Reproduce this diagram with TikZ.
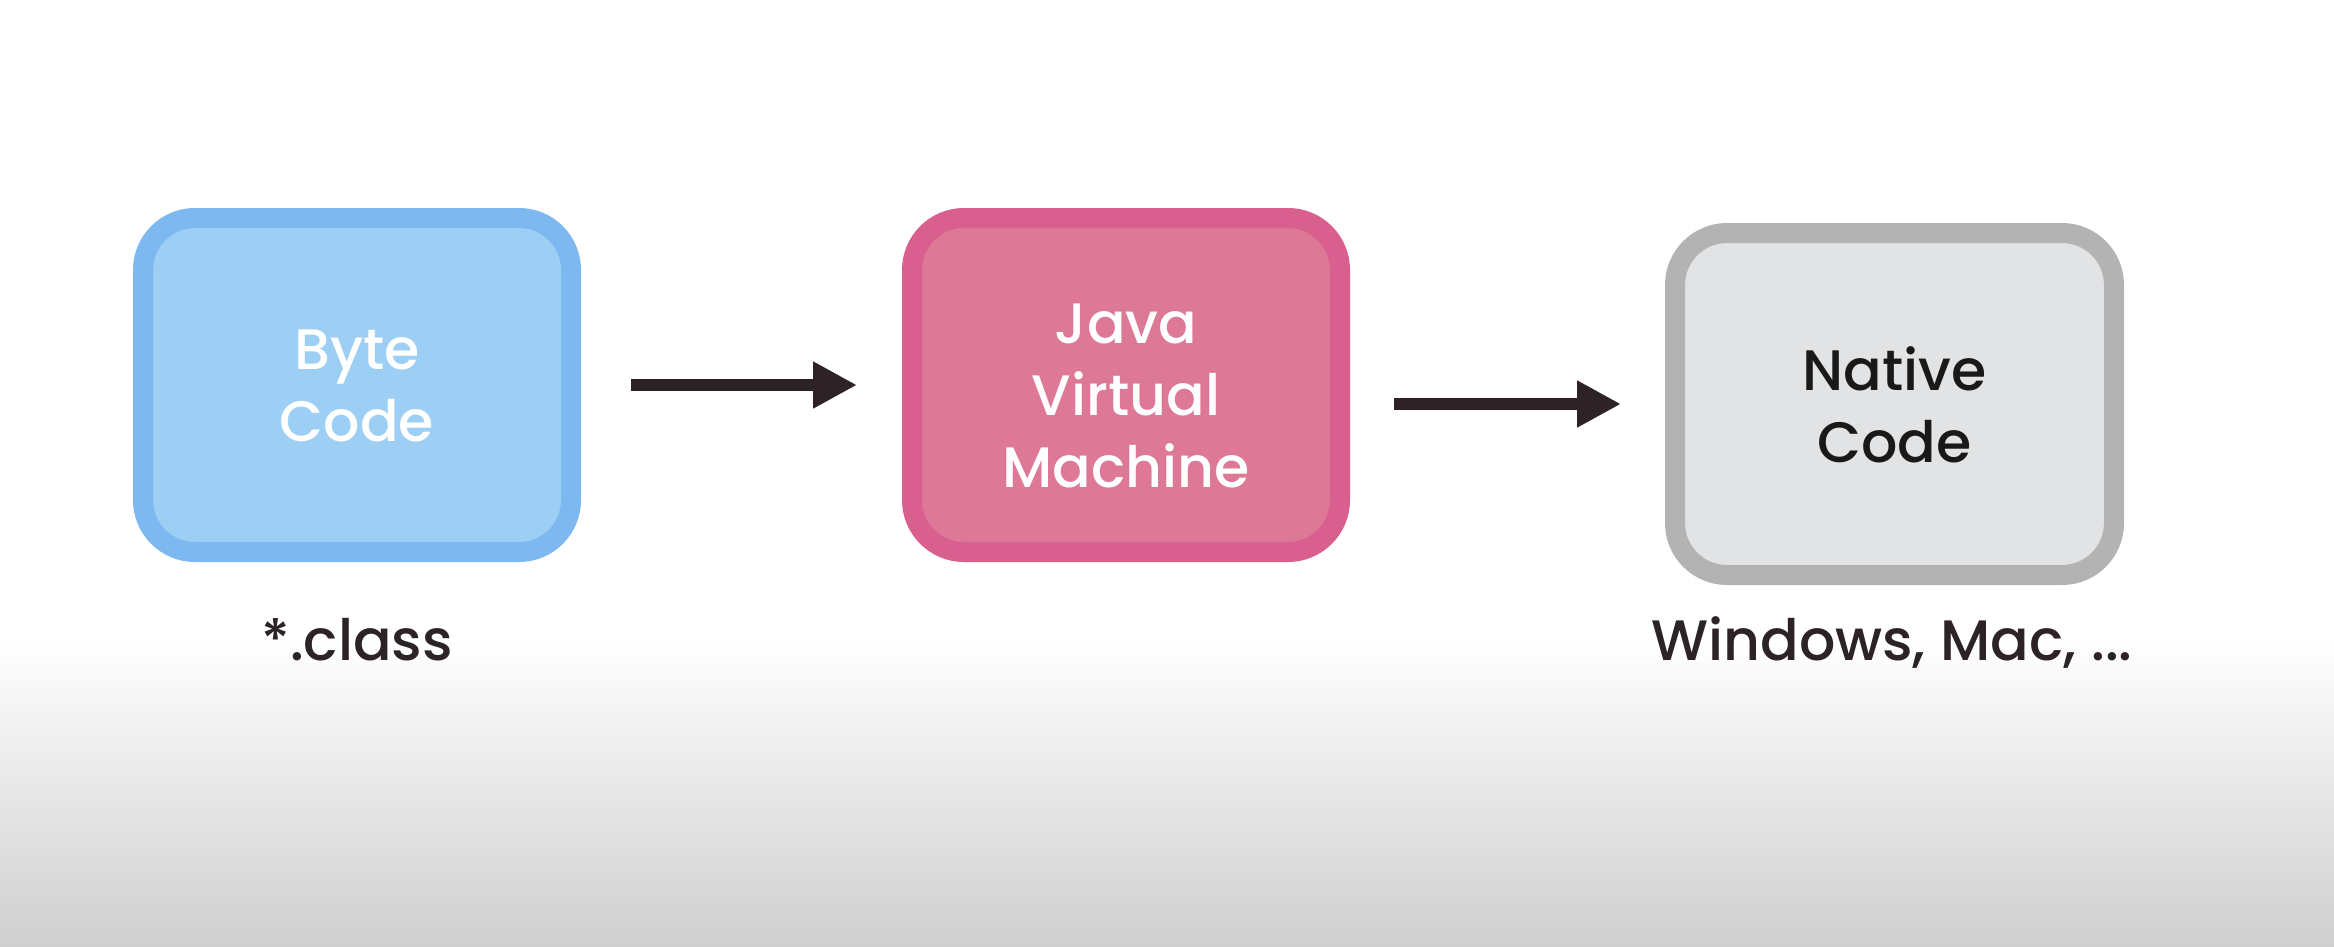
\documentclass[tikz,border=0pt]{standalone}
\usepackage{fontspec}
\setmainfont{Poppins}[UprightFont=* Medium]
\usetikzlibrary{arrows.meta}
\definecolor{byteborder}{HTML}{7DB9F0}
\definecolor{bytefill}{HTML}{9DCFF5}
\definecolor{jvmborder}{HTML}{D95F8F}
\definecolor{jvmfill}{HTML}{DE7897}
\definecolor{natborder}{HTML}{B3B3B3}
\definecolor{natfill}{HTML}{E2E3E5}
\definecolor{arrowcol}{HTML}{2D2326}
\definecolor{labelcol}{HTML}{2B2326}
\definecolor{bgbottom}{HTML}{CFCFCF}
\tikzset{
  boxshape/.style={rectangle, rounded corners=52pt, line width=20pt, inner sep=0pt},
  boxtext/.style={align=center, inner sep=0pt, font=\fontsize{57}{72}\selectfont},
  undertext/.style={anchor=base, inner sep=0pt, text=labelcol, font=\fontsize{57}{72}\selectfont},
  flow/.style={draw=arrowcol, line width=12pt, -{Triangle[length=44pt,width=44pt]}}
}
\begin{document}
\begin{tikzpicture}[x=1pt,y=-1pt]
\fill[white] (0,0) rectangle (2334,946);
\shade[top color=white, bottom color=bgbottom] (0,640) rectangle (2334,946);
\useasboundingbox (0,0) rectangle (2334,946);

\node[boxshape, draw=byteborder, fill=bytefill, minimum width=428pt, minimum height=334pt] (byte) at (357,385) {};
\node[boxshape, draw=jvmborder, fill=jvmfill, minimum width=428pt, minimum height=334pt] (jvm) at (1126,385) {};
\node[boxshape, draw=natborder, fill=natfill, minimum width=439pt, minimum height=342pt] (native) at (1894.5,404) {};

\node[boxtext, text=white] (bytetext) at (357,386) {Byte\\Code};
\node[boxtext, text=white] (jvmtext) at (1126,396) {Java\\Virtual\\Machine};
\node[boxtext, text=black!90] (nativetext) at (1894.5,405) {Native\\Code};

\node[undertext] (classlabel) at (357,660) {*.class};
\node[undertext] (oslabel) at (1892,660) {Windows, Mac, ...};

\draw[flow, shorten <=50pt, shorten >=45pt] (byte.east) -- (jvm.west);
\draw[flow, shorten <=44pt, shorten >=44pt] (jvm.east |- native.west) -- (native.west);
\end{tikzpicture}
\end{document}
